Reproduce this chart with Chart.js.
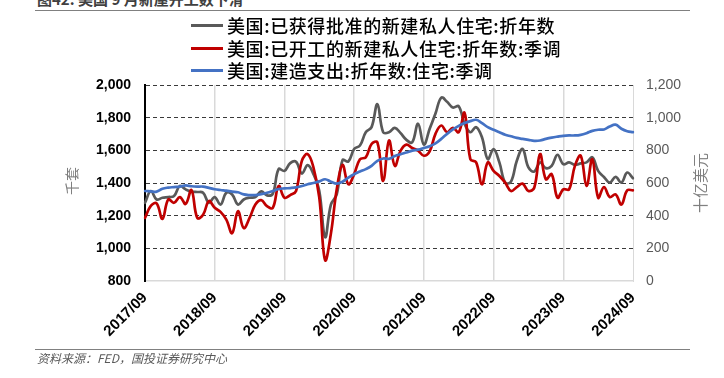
<!DOCTYPE html>
<html><head><meta charset="utf-8">
<script src="https://cdn.jsdelivr.net/npm/chart.js@4.4.1/dist/chart.umd.min.js"></script>
<style>
html,body{margin:0;padding:0;background:#fff;}
#wrap{position:relative;width:724px;height:378px;overflow:hidden;font-family:"Noto Sans CJK SC",sans-serif;background:#fff;}
canvas{position:absolute;left:0;top:0;}
.abs{position:absolute;white-space:nowrap;}
#title{left:37px;top:-9px;font-size:15px;line-height:15px;color:#404040;font-weight:bold;}
.hr{position:absolute;height:1px;background:#808080;left:35px;width:655px;}
.leg{position:absolute;left:191px;height:22px;display:flex;align-items:center;font-size:18px;line-height:22px;color:#000;white-space:nowrap;font-weight:500;letter-spacing:0.6px;}
.leg i{display:inline-block;width:32px;height:3px;margin-right:4px;}
.ytitle{position:absolute;font-size:14px;line-height:16px;color:#7f7f7f;transform:translate(-50%,-50%) rotate(-90deg);white-space:nowrap;}
#foot{left:37px;top:350px;font-size:12px;line-height:16px;color:#595959;font-style:italic;}
</style></head>
<body>
<div id="wrap">
<div id="title" class="abs">图42: 美国 9 月新屋开工数下滑</div>
<div class="hr" style="top:10px"></div>
<canvas id="c" width="724" height="378"></canvas>
<div id="legend"></div>
<div class="ytitle" style="left:71px;top:181px">千套</div>
<div class="ytitle" style="left:700px;top:183px;font-size:15px">十亿美元</div>
<div class="hr" style="top:349px"></div>
<div id="foot" class="abs">资料来源：FED，国投证券研究中心</div>
</div>
<script>
// Monthly categories 2017/09 .. 2024/09
const startYear = 2017, startMonth = 9, monthCount = 85;
const categories = [];
for (let k = 0; k < monthCount; k++) {
  const t = startMonth - 1 + k;
  categories.push((startYear + Math.floor(t / 12)) + '/' + String(t % 12 + 1).padStart(2, '0'));
}
const seriesNames = ['美国:已获得批准的新建私人住宅:折年数', '美国:已开工的新建私人住宅:折年数:季调', '美国:建造支出:折年数:住宅:季调'];
// 千套 (left axis)
const permits = [1279,1351,1299,1310,1314,1320,1382,1361,1347,1345,1340,1279,1314,1268,1340,1330,1268,1299,1310,1314,
1349,1324,1335,1485,1474,1522,1530,1458,1509,1454,1351,1068,1268,1330,1540,1532,1608,1629,1711,1742,
1882,1711,1711,1738,1705,1664,1649,1763,1635,1732,1825,1923,1897,1862,1870,1763,1711,1742,1680,1546,
1608,1526,1402,1408,1536,1608,1495,1470,1526,1491,1505,1573,1515,1526,1511,1520,1526,1557,1474,1437,
1402,1437,1402,1464,1429];
const starts = [1186,1260,1275,1180,1299,1279,1314,1272,1357,1186,1206,1289,1248,1223,1176,1093,1227,1124,1186,1268,
1295,1258,1248,1382,1310,1326,1351,1536,1577,1495,1310,928,1090,1360,1510,1392,1454,1546,1557,1639,
1649,1413,1660,1505,1598,1635,1614,1598,1567,1594,1701,1752,1711,1738,1711,1830,1546,1526,1392,1526,
1474,1443,1402,1351,1375,1396,1351,1371,1577,1423,1454,1310,1361,1361,1505,1567,1382,1546,1310,1375,
1314,1330,1268,1355,1355];
// 十亿美元 (right axis)
const spending = [551,549,547,565,572,575,578,585,580,578,578,570,562,557,553,547,543,530,526,526,
532,540,551,563,567,569,573,582,592,600,610,623,608,596,608,633,654,670,685,705,
736,750,748,765,777,787,798,804,814,825,843,870,901,928,950,967,979,987,967,942,
926,911,895,886,876,870,864,858,860,870,878,884,889,891,891,895,905,919,926,928,
946,957,932,917,911];
const leftTicks = [800,1000,1200,1400,1600,1800,2000];
const rightTicks = [0,200,400,600,800,1000,1200];
const colors = ['#595959', '#c00000', '#4472c4'];

// HTML legend
const legend = document.getElementById('legend');
const legTops = [14, 37, 59];
seriesNames.forEach((n, k) => {
  const d = document.createElement('div');
  d.className = 'leg';
  d.style.top = legTops[k] + 'px';
  d.innerHTML = '<i style="background:' + colors[k] + '"></i><span>' + n + '</span>';
  legend.appendChild(d);
});

const tickFontL = {family: '"Liberation Sans", Arial, sans-serif', size: 14, weight: 'bold'};
new Chart(document.getElementById('c'), {
  type: 'line',
  data: {
    labels: categories,
    datasets: [
      {label: seriesNames[0], data: permits, borderColor: colors[0], borderWidth: 2.7, yAxisID: 'y', order: 3},
      {label: seriesNames[1], data: starts, borderColor: colors[1], borderWidth: 2.7, yAxisID: 'y', order: 2},
      {label: seriesNames[2], data: spending, borderColor: colors[2], borderWidth: 2.7, yAxisID: 'y1', order: 1}
    ]
  },
  options: {
    responsive: false, animation: false, devicePixelRatio: 1,
    layout: {padding: {top: 85, left: 0, right: 0, bottom: 0}},
    elements: {point: {radius: 0}, line: {tension: 0.4, borderCapStyle: 'round', borderJoinStyle: 'round'}},
    plugins: {legend: {display: false}, tooltip: {enabled: false}},
    scales: {
      x: {
        type: 'category', offset: false,
        afterFit: s => { s.height = 97; },
        grid: {color: c => (c.index % 12 === 0 && c.index > 0 && c.index < monthCount - 1) ? '#d9d9d9' : 'rgba(0,0,0,0)', lineWidth: 1.5, drawTicks: false},
        border: {color: '#d9d9d9', width: 1.5},
        ticks: {autoSkip: false, maxRotation: 45, minRotation: 45, padding: 8, color: '#000',
          font: {family: '"Liberation Sans", Arial, sans-serif', size: 15, weight: 'bold'},
          callback: (v, i) => (i % 12 === 0 ? categories[i] : '')}
      },
      y: {
        position: 'left', min: leftTicks[0], max: leftTicks[leftTicks.length - 1],
        afterFit: s => { s.width = 145; },
        afterBuildTicks: s => { s.ticks = leftTicks.map(v => ({value: v})); },
        ticks: {padding: 14, color: '#000', font: tickFontL, callback: v => v.toLocaleString('en-US')},
        grid: {color: c => (c.tick && c.tick.value === leftTicks[0]) ? 'rgba(0,0,0,0)' : '#3a3a3a', lineWidth: 1, drawTicks: false},
        border: {color: '#000', width: 2, dash: [4, 3]}
      },
      y1: {
        position: 'right', min: rightTicks[0], max: rightTicks[rightTicks.length - 1],
        afterFit: s => { s.width = 91; },
        afterBuildTicks: s => { s.ticks = rightTicks.map(v => ({value: v})); },
        ticks: {padding: 13, color: '#595959', font: {family: '"Liberation Sans", Arial, sans-serif', size: 14}, callback: v => v.toLocaleString('en-US')},
        grid: {drawOnChartArea: false, drawTicks: false},
        border: {color: '#d9d9d9', width: 1}
      }
    }
  }
});
</script>
</body></html>
